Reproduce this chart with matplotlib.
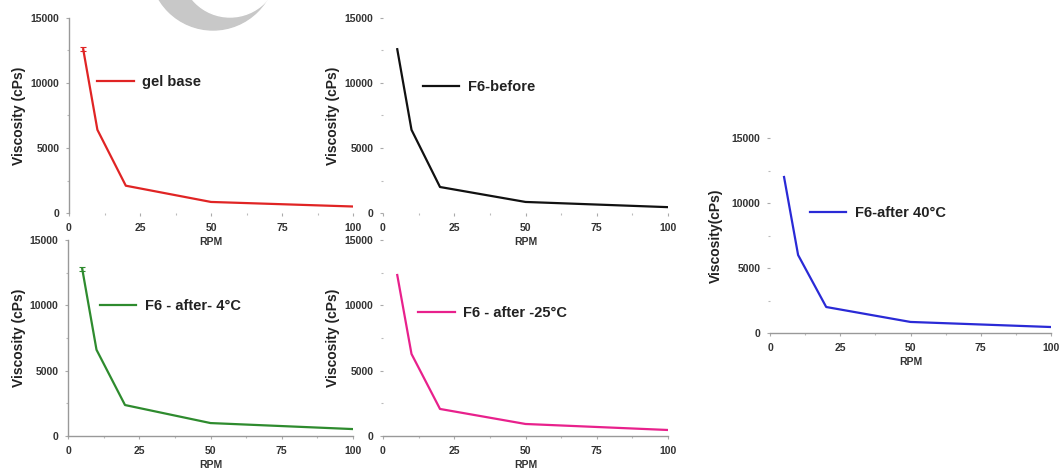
import matplotlib
matplotlib.use("Agg")
import matplotlib.pyplot as plt
from matplotlib.patches import Ellipse

plt.rcParams['font.family'] = ['Liberation Sans', 'DejaVu Sans']
plt.rcParams['font.weight'] = 'bold'

rpm = [5, 10, 20, 50, 100]
gel_base = [12600, 6400, 2100, 850, 500]
f6_before = [12600, 6400, 2000, 850, 450]
f6_after_4 = [12780, 6600, 2370, 990, 530]
f6_after_m25 = [12320, 6280, 2070, 920, 460]
f6_after_40 = [12000, 6000, 2000, 850, 460]
err_gel = [150, 0, 0, 0, 0]
err_4 = [150, 0, 0, 0, 0]

labels = ['gel base', 'F6-before', 'F6 - after- 4°C', 'F6 - after -25°C', 'F6-after 40°C']
colors = ['#e02424', '#111111', '#2e8b2e', '#e8218c', '#2a2ad6']
ylabels = ['Viscosity (cPs)'] * 4 + ['Viscosity(cPs)']
xticks = [0, 25, 50, 75, 100]
yticks = [0, 5000, 10000, 15000]

W, H = 1063, 470
fig = plt.figure(figsize=(W / 100, H / 100), dpi=100)

# panel boxes in pixel coords: left, right, top, bottom
boxes = [(69, 353, 18, 213), (383, 668, 18, 213), (68, 353, 240, 436),
         (383, 668, 240, 436), (770, 1051, 138, 333)]
spines = [('left',), (), ('left', 'bottom'), ('bottom',), ('bottom',)]
leg_pos = [(0.099, 0.672), (0.140, 0.646), (0.112, 0.663), (0.123, 0.628), (0.142, 0.615)]
ylab_x = [-0.150, -0.150, -0.148, -0.150, -0.168]
series = [gel_base, f6_before, f6_after_4, f6_after_m25, f6_after_40]
errs = [err_gel, None, err_4, None, None]

for i, (l, r, t, b) in enumerate(boxes):
    ax = fig.add_axes([l / W, 1 - b / H, (r - l) / W, (b - t) / H])
    ax.set_facecolor('none')
    ax.plot(rpm, series[i], color=colors[i], lw=1.6, label=labels[i])
    if errs[i] is not None:
        pts = [(x, y, e) for x, y, e in zip(rpm, series[i], errs[i]) if e > 0]
        ax.errorbar([p[0] for p in pts], [p[1] for p in pts],
                    yerr=[p[2] for p in pts], fmt='none', ecolor=colors[i],
                    capsize=2, elinewidth=0.8, capthick=0.8)
    ax.set_xlim(0, 100)
    ax.set_ylim(0, 15000)
    ax.set_xticks(xticks)
    ax.set_yticks(yticks)
    ax.set_xticks([12.5, 37.5, 62.5, 87.5], minor=True)
    ax.set_yticks([2500, 7500, 12500], minor=True)
    for s in ['left', 'right', 'top', 'bottom']:
        ax.spines[s].set_visible(s in spines[i])
        ax.spines[s].set_color('#999999')
        ax.spines[s].set_linewidth(1.0)
    ax.tick_params(which='major', length=2, width=0.8, color='#aaaaaa',
                   labelsize=7.5, labelcolor='#333333', pad=5)
    ax.tick_params(which='minor', length=1.5, width=0.8, color='#bbbbbb')
    for lab in ax.get_xticklabels() + ax.get_yticklabels():
        lab.set_fontweight('bold')
    ax.set_xlabel('RPM', fontsize=7.5, fontweight='bold', color='#333333', labelpad=3)
    ax.set_ylabel(ylabels[i], fontsize=10, fontweight='bold', color='#222222')
    ax.yaxis.set_label_coords(ylab_x[i], 0.5)
    leg = ax.legend(loc='center left', bbox_to_anchor=leg_pos[i], frameon=False,
                    borderpad=0, borderaxespad=0, handlelength=2.5,
                    handletextpad=0.6, prop={'weight': 'bold', 'size': 10.5})
    for txt in leg.get_texts():
        txt.set_color('#222222')

# grey watermark crescent at the top
fig.patches.append(Ellipse((213 / W, 1 + 33 / H), 2 * 63 / W, 2 * 63 / H,
                           transform=fig.transFigure, color='#c8c8c8', zorder=0))
fig.patches.append(Ellipse((230 / W, 1 + 32 / H), 2 * 49 / W, 2 * 49 / H,
                           transform=fig.transFigure, color='white', zorder=0.5))

fig.savefig('out.png', dpi=100)
